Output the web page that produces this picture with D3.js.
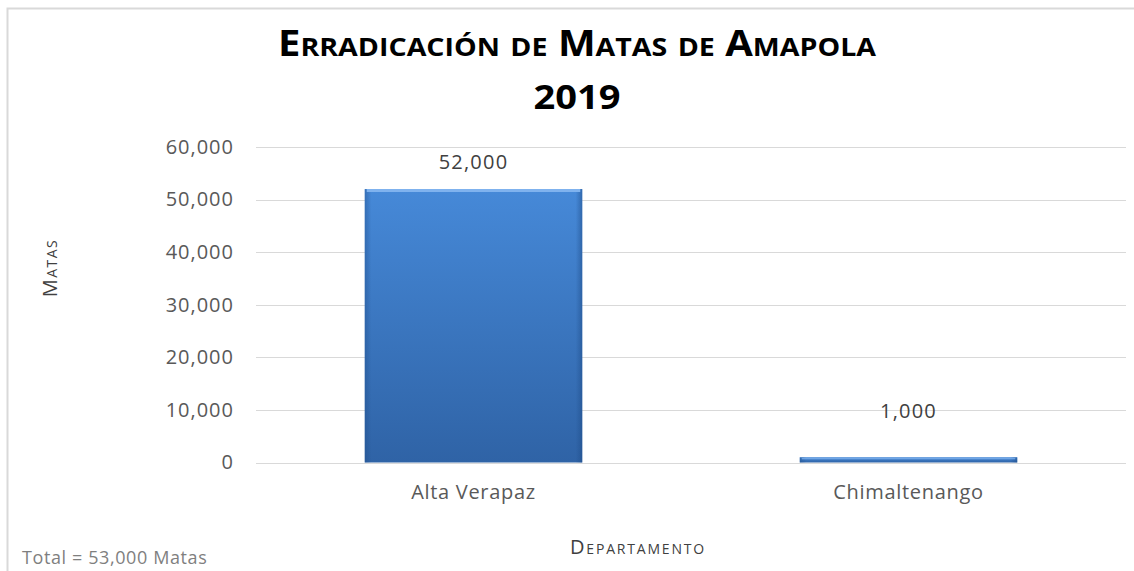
<!DOCTYPE html>
<html>
<head>
<meta charset="utf-8">
<script src="https://cdn.jsdelivr.net/npm/d3@7"></script>
<style>
  body { margin: 0; background: #fff; }
  svg text { font-family: "Open Sans", Lato, sans-serif; }
</style>
</head>
<body>
<div id="chart"></div>
<script>
var categories = ["Alta Verapaz", "Chimaltenango"];
var values = [52000, 1000];
var yTicks = [0, 10000, 20000, 30000, 40000, 50000, 60000];
var titleLine1 = "Erradicación de Matas de Amapola";
var titleLine2 = "2019";
var totalNote = "Total = 53,000 Matas";

var width = 1134, height = 571;
var margin = { left: 256, right: 8, top: 147, bottom: 108 };
var plotW = width - margin.left - margin.right;
var plotH = height - margin.top - margin.bottom;

var fmt = d3.format(",");

var svg = d3.select("#chart").append("svg")
    .attr("width", width)
    .attr("height", height);

// gradient for the bars
var defs = svg.append("defs");
var grad = defs.append("linearGradient")
    .attr("id", "barGrad")
    .attr("x1", 0).attr("y1", 0).attr("x2", 0).attr("y2", 1);
grad.append("stop").attr("offset", "0%").attr("stop-color", "#4689d8");
grad.append("stop").attr("offset", "100%").attr("stop-color", "#2f63a6");

var side = defs.append("linearGradient")
    .attr("id", "sideGrad")
    .attr("x1", 0).attr("y1", 0).attr("x2", 1).attr("y2", 0);
side.append("stop").attr("offset", "0%").attr("stop-color", "#1d4a85").attr("stop-opacity", 0.4);
side.append("stop").attr("offset", "3%").attr("stop-color", "#1d4a85").attr("stop-opacity", 0);
side.append("stop").attr("offset", "97%").attr("stop-color", "#1d4a85").attr("stop-opacity", 0);
side.append("stop").attr("offset", "100%").attr("stop-color", "#1d4a85").attr("stop-opacity", 0.5);

// outer border
svg.append("rect")
    .attr("x", 7.5).attr("y", 8.5)
    .attr("width", 1200).attr("height", 700)
    .attr("fill", "none")
    .attr("stroke", "#d9d9d9")
    .attr("stroke-width", 2);

// titles
svg.append("text")
    .attr("x", 577).attr("y", 56)
    .attr("text-anchor", "middle")
    .attr("textLength", 598)
    .attr("lengthAdjust", "spacingAndGlyphs")
    .style("font-size", "35px")
    .style("font-weight", "bold")
    .style("font-variant", "small-caps")
    .attr("fill", "#000")
    .text(titleLine1);

svg.append("text")
    .attr("x", 577).attr("y", 109)
    .attr("text-anchor", "middle")
    .attr("textLength", 87)
    .attr("lengthAdjust", "spacingAndGlyphs")
    .style("font-size", "34px")
    .style("font-weight", "bold")
    .attr("fill", "#000")
    .text(titleLine2);

var g = svg.append("g")
    .attr("transform", "translate(" + margin.left + "," + margin.top + ")");

var x = d3.scaleBand()
    .domain(categories)
    .range([0, plotW])
    .paddingInner(0.5)
    .paddingOuter(0.25);

var y = d3.scaleLinear()
    .domain([0, 60000])
    .range([plotH - 0.5, 0]);

// gridlines
g.selectAll(".grid")
    .data(yTicks)
    .enter().append("line")
    .attr("class", "grid")
    .attr("x1", 0).attr("x2", plotW)
    .attr("y1", function (d) { return Math.round(y(d)) + 0.5; })
    .attr("y2", function (d) { return Math.round(y(d)) + 0.5; })
    .attr("stroke", "#d9d9d9")
    .attr("stroke-width", 1);

// y axis labels
var yAxis = g.append("g")
    .call(d3.axisLeft(y).tickValues(yTicks).tickFormat(fmt).tickSize(0).tickPadding(22));
yAxis.select(".domain").remove();
yAxis.selectAll("text")
    .style("font-size", "20px")
    .style("letter-spacing", "1px")
    .attr("fill", "#595959");

// x axis labels
var xAxis = g.append("g")
    .attr("transform", "translate(0," + plotH + ")")
    .call(d3.axisBottom(x).tickSize(0).tickPadding(22));
xAxis.select(".domain").remove();
xAxis.selectAll("text")
    .style("font-size", "20px")
    .style("letter-spacing", "0.7px")
    .attr("fill", "#595959");

// bars
var bars = g.selectAll(".bar")
    .data(values)
    .enter().append("g")
    .attr("class", "bar");

bars.append("rect")
    .attr("x", function (d, i) { return x(categories[i]); })
    .attr("y", function (d) { return y(d); })
    .attr("width", x.bandwidth())
    .attr("height", function (d) { return y(0) - y(d); })
    .attr("fill", "url(#barGrad)");

bars.append("rect")
    .attr("x", function (d, i) { return x(categories[i]); })
    .attr("y", function (d) { return y(d); })
    .attr("width", x.bandwidth())
    .attr("height", function (d) { return y(0) - y(d); })
    .attr("fill", "url(#sideGrad)");

// top highlight
bars.append("line")
    .attr("x1", function (d, i) { return x(categories[i]) + 2; })
    .attr("x2", function (d, i) { return x(categories[i]) + x.bandwidth() - 2; })
    .attr("y1", function (d) { return y(d) + 1.5; })
    .attr("y2", function (d) { return y(d) + 1.5; })
    .attr("stroke", "#7fb2ee")
    .attr("stroke-width", function (d) { return y(0) - y(d) > 10 ? 3 : 1; });

// value labels
g.selectAll(".label")
    .data(values)
    .enter().append("text")
    .attr("class", "label")
    .attr("x", function (d, i) { return x(categories[i]) + x.bandwidth() / 2; })
    .attr("y", function (d) { return Math.min(y(d) - 20, y(0) - 45); })
    .attr("text-anchor", "middle")
    .style("font-size", "20px")
    .style("letter-spacing", "1.2px")
    .attr("fill", "#404040")
    .text(function (d) { return fmt(d); });

// axis titles
svg.append("text")
    .attr("transform", "translate(57,268) rotate(-90)")
    .attr("text-anchor", "middle")
    .style("font-size", "20px")
    .style("font-variant", "small-caps")
    .style("letter-spacing", "1.5px")
    .attr("fill", "#404040")
    .text("Matas");

svg.append("text")
    .attr("x", 638).attr("y", 554)
    .attr("text-anchor", "middle")
    .style("font-size", "20px")
    .style("font-variant", "small-caps")
    .style("letter-spacing", "1.8px")
    .attr("fill", "#404040")
    .text("Departamento");

svg.append("text")
    .attr("x", 22).attr("y", 564)
    .style("font-size", "18px")
    .style("letter-spacing", "0.6px")
    .attr("fill", "#7f7f7f")
    .text(totalNote);
</script>
</body>
</html>
